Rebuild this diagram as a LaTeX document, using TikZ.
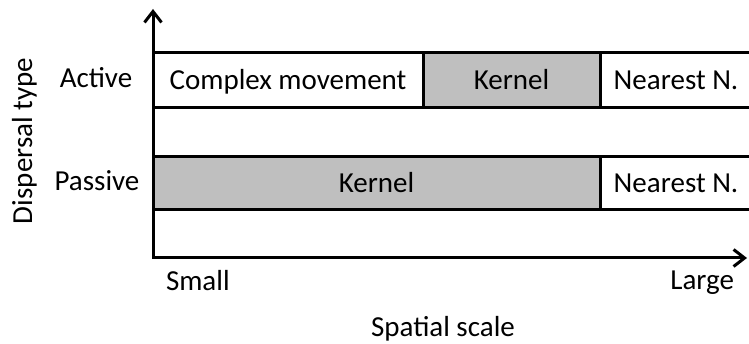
\documentclass[tikz,border=0pt]{standalone}
\usepackage{fontspec}
\setmainfont{Carlito}
\usetikzlibrary{arrows.meta}
\definecolor{kernelgray}{RGB}{191,191,191}
\tikzset{
  cell/.style={draw=black, line width=3pt, rectangle, inner sep=0pt, outer sep=0pt,
    text height=18.7pt, text depth=0pt, align=center},
  lbl/.style={inner sep=0pt, outer sep=0pt},
  capbox/.style={text height=18.7pt, text depth=0pt},
  axis/.style={line width=3pt, line join=miter,
    {Straight Barb[length=11pt,width=17pt,line width=3pt]}-{Straight Barb[length=11pt,width=17pt,line width=3pt]}}
}
\begin{document}
\begin{tikzpicture}[x=1pt, y=-1pt, font=\fontsize{29}{34}\selectfont]
  \useasboundingbox (0,0) rectangle (749,344);

  % active dispersal row
  \node[cell, minimum width=270pt, minimum height=55pt] (acm) at (288,80.5) {Complex movement};
  \node[cell, fill=kernelgray, minimum width=177pt, minimum height=55pt] (ak) at (511.5,80.5) {Kernel};
  \node[cell, minimum width=152pt, minimum height=55pt] (an) at (676,80.5) {Nearest N.};

  % passive dispersal row
  \node[cell, fill=kernelgray, minimum width=447pt, minimum height=53pt] (pk) at (376.5,183.5) {Kernel};
  \node[cell, minimum width=152pt, minimum height=53pt] (pn) at (676,183.5) {Nearest N.};

  % axes
  \coordinate (O) at (153,258);
  \coordinate (ytip) at (153,9);
  \coordinate (xtip) at (747,258);
  \draw[axis] (ytip) -- (O) -- (xtip);

  % row labels
  \node[lbl, capbox] (active) at (96,78) {Active};
  \node[lbl, capbox] (passive) at (97,181) {Passive};

  % axis labels
  \node[lbl, rotate=90, anchor=base] (ylab) at (32,141) {Dispersal type};
  \node[lbl, anchor=base west] (small) at (166,291) {Small};
  \node[lbl, anchor=base east] (large) at (734,290) {Large};
  \node[lbl, anchor=base] (xlab) at (443,337) {Spatial scale};
\end{tikzpicture}
\end{document}
